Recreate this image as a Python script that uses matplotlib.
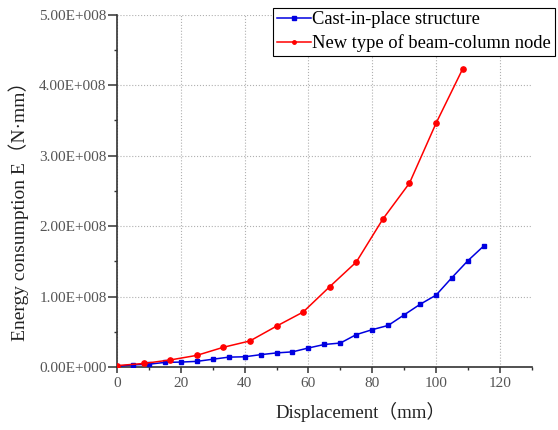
import matplotlib
matplotlib.use("Agg")
import matplotlib.pyplot as plt
from matplotlib.ticker import MultipleLocator, FuncFormatter

# Cast-in-place structure (blue squares)
disp_cast = [0, 5, 10, 15, 20, 25, 30, 35, 40, 45, 50, 55, 60, 65, 70, 75,
             80, 85, 90, 95, 100, 105, 110, 115]
energy_cast = [0.01, 0.03, 0.04, 0.065, 0.07, 0.08, 0.11, 0.14, 0.145, 0.175,
               0.20, 0.215, 0.27, 0.32, 0.34, 0.46, 0.53, 0.59, 0.74, 0.89,
               1.02, 1.27, 1.51, 1.72]

# New type of beam-column node (red circles)
disp_new = [0, 8.33, 16.67, 25, 33.33, 41.67, 50, 58.33, 66.67, 75, 83.33,
            91.67, 100, 108.33]
energy_new = [0.02, 0.05, 0.10, 0.165, 0.28, 0.37, 0.58, 0.78, 1.14, 1.49,
              2.10, 2.61, 3.46, 4.23]

scale = 1e8
fonts = ['Liberation Serif', 'Noto Sans CJK SC']


def sci_label(v, pos):
    # Origin-style labels: 1.00E+008, and 0.00E+000 at zero
    if v == 0:
        return '0.00E+000'
    return '%.2fE+%03d' % (v / 1e8, 8)


fig = plt.figure(figsize=(5.58, 4.30), dpi=100)
ax = fig.add_axes([0.2097, 0.1465, 0.7433, 0.8193])

ax.plot(disp_cast, [v * scale for v in energy_cast], color='#0000e0', lw=1.1,
        marker='s', ms=3.5, label='Cast-in-place structure', zorder=3)
ax.plot(disp_new, [v * scale for v in energy_new], color='#ff0000', lw=1.1,
        marker='o', ms=3.8, label='New type of beam-column node', zorder=3)

ax.set_xlim(0, 130)
ax.set_ylim(0, 5e8)
ax.xaxis.set_major_locator(MultipleLocator(20))
ax.xaxis.set_minor_locator(MultipleLocator(10))
ax.yaxis.set_major_locator(MultipleLocator(1e8))
ax.yaxis.set_minor_locator(MultipleLocator(0.5e8))
ax.xaxis.set_major_formatter(FuncFormatter(lambda v, p: '%d' % v if v <= 120 else ''))
ax.yaxis.set_major_formatter(FuncFormatter(sci_label))

ax.grid(True, which='major', color='#b0b0b0', ls=':', lw=0.8)
ax.spines['top'].set_visible(False)
ax.spines['right'].set_visible(False)
for s in ('left', 'bottom'):
    ax.spines[s].set_linewidth(1.2)
    ax.spines[s].set_color('#333333')

ax.tick_params(which='major', direction='out', width=1.1, color='#333333',
               labelsize=11, labelcolor='#555555')
ax.tick_params(axis='y', which='major', length=6.5, pad=1)
ax.tick_params(axis='x', which='major', length=4, pad=3)
ax.tick_params(which='minor', direction='out', length=2.5, width=1.0, color='#333333')
for lbl in ax.get_xticklabels() + ax.get_yticklabels():
    lbl.set_family(fonts)

ax.set_xlabel('Displacement（mm）', family=fonts, fontsize=13.5, color='#222222')
ax.set_ylabel('Energy consumption E（N·mm）', family=fonts, fontsize=14, color='#222222')
ax.xaxis.set_label_coords(0.586, -0.10)
ax.yaxis.set_label_coords(-0.211, 0.457)

leg = ax.legend(loc='upper right', bbox_to_anchor=(1.055, 1.02), prop={'family': fonts, 'size': 13.3},
                frameon=True, fancybox=False, edgecolor='black', framealpha=1,
                handlelength=1.85, handletextpad=0.05, borderpad=0.2, labelspacing=0.32,
                borderaxespad=0)
leg.get_frame().set_linewidth(0.8)
for h in leg.legend_handles:
    h.set_markersize(2.5)

fig.savefig('out.png', dpi=100, facecolor='white')
